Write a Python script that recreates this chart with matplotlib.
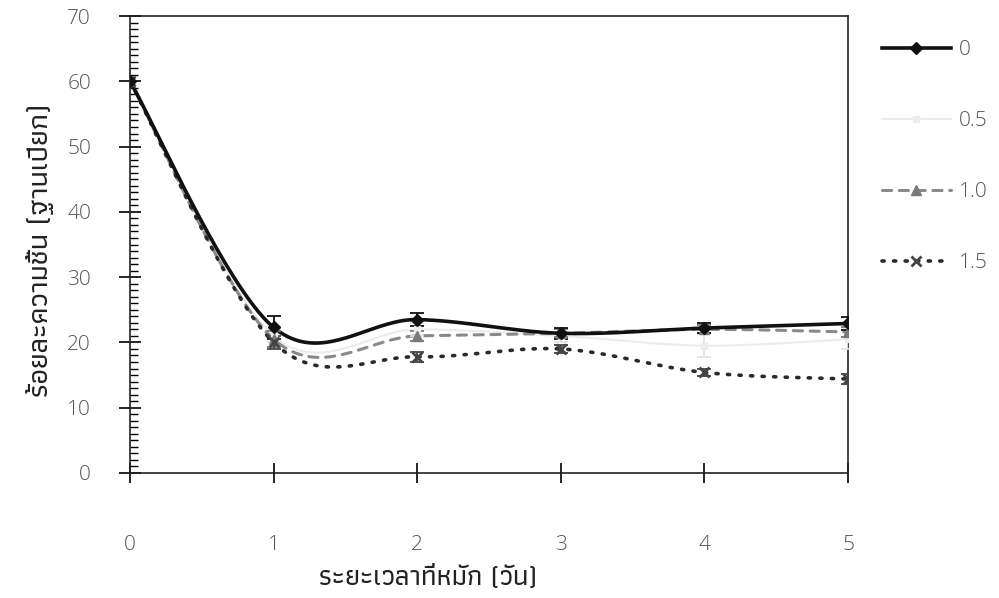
import matplotlib
matplotlib.use("Agg")
import matplotlib.pyplot as plt
import numpy as np
from matplotlib.lines import Line2D
from matplotlib.ticker import MultipleLocator

# ---- data ----
days = [0, 1, 2, 3, 4, 5]
labels = ["0", "0.5", "1.0", "1.5"]
m_00 = [60, 22.3, 23.5, 21.4, 22.2, 22.9]
e_00 = [0, 1.8, 1.0, 0.8, 0.8, 1.0]
m_05 = [60, 21.0, 22.0, 21.0, 19.5, 20.5]
e_05 = [0, 1.0, 1.0, 1.0, 1.8, 1.5]
m_10 = [60, 20.5, 21.0, 21.4, 22.0, 21.6]
e_10 = [0, 1.2, 0.8, 0.6, 0.6, 0.8]
m_15 = [60, 20.0, 17.8, 19.0, 15.4, 14.4]
e_15 = [0, 1.0, 0.8, 0.6, 0.6, 0.8]
xlabel = "ระยะเวลาที่หมัก (วัน)"
ylabel = "ร้อยละความชื้น (ฐานเปียก)"

THAI = ["Athiti", "DejaVu Sans"]
NUM = ["Open Sans", "DejaVu Sans"]


def smooth(xs, ys, n=40):
    """Catmull-Rom (Excel-style) smoothed path through the given points."""
    P = np.column_stack([xs, ys]).astype(float)
    out = []
    for i in range(len(P) - 1):
        p0 = P[i - 1] if i > 0 else P[i]
        p1, p2 = P[i], P[i + 1]
        p3 = P[i + 2] if i + 2 < len(P) else P[i + 1]
        b1 = p1 + (p2 - p0) / 6.0
        b2 = p2 - (p3 - p1) / 6.0
        t = np.linspace(0, 1, n)[:, None]
        seg = ((1 - t) ** 3) * p1 + 3 * ((1 - t) ** 2) * t * b1 + 3 * (1 - t) * t ** 2 * b2 + t ** 3 * p2
        out.append(seg if i == 0 else seg[1:])
    s = np.vstack(out)
    return s[:, 0], s[:, 1]


fig = plt.figure(figsize=(9.99, 5.98), dpi=100)
ax = fig.add_axes([130 / 999, 1 - 473 / 598, (848 - 130) / 999, (473 - 16) / 598])

series = [
    (m_05, e_05, dict(color="#ececec", ls="-", lw=1.5, marker="s", ms=5, mfc="#ececec", mec="#ececec"), "#e2e2e2"),
    (m_10, e_10, dict(color="#8a8a8a", ls=(0, (3.0, 2.5)), lw=2.2, marker="^", ms=7, mfc="#7a7a7a", mec="#7a7a7a"), "#7a7a7a"),
    (m_15, e_15, dict(color="#2a2a2a", ls=(0, (0.6, 2.6)), lw=2.6, marker="x", ms=7, mfc="#444", mec="#444", mew=2), "#444444"),
    (m_00, e_00, dict(color="#111111", ls="-", lw=2.6, marker="D", ms=6, mfc="#111", mec="#111"), "#111111"),
]
handles = {}
for (m, e, st, ecol), lab in zip(series, ["0.5", "1.0", "1.5", "0"]):
    sx, sy = smooth(days, m)
    ax.plot(sx, sy, color=st["color"], ls=st["ls"], lw=st["lw"],
            solid_capstyle="round", dash_capstyle="round", zorder=3)
    ax.errorbar(days, m, yerr=e, fmt="none", ecolor=ecol, elinewidth=1.3,
                capsize=5, capthick=1.3, zorder=4)
    ax.plot(days, m, ls="none", marker=st["marker"], ms=st["ms"], mfc=st["mfc"],
            mec=st["mec"], mew=st.get("mew", 1), zorder=5)
    handles[lab] = Line2D([], [], color=st["color"], ls=st["ls"], lw=st["lw"],
                          marker=st["marker"], ms=st["ms"], mfc=st["mfc"],
                          mec=st["mec"], mew=st.get("mew", 1),
                          dash_capstyle="round")

ax.set_xlim(0, 5)
ax.set_ylim(0, 70)
ax.set_xticks(days)
ax.yaxis.set_major_locator(MultipleLocator(10))
ax.yaxis.set_minor_locator(MultipleLocator(1))
ax.tick_params(axis="y", which="major", direction="inout", length=16, width=1.2,
               pad=20, labelsize=15, labelcolor="#555")
ax.tick_params(axis="y", which="minor", direction="in", length=6, width=1.0)
ax.tick_params(axis="x", which="major", direction="inout", length=14, width=1.2,
               pad=38, labelsize=15, labelcolor="#555")
for lab in ax.get_xticklabels() + ax.get_yticklabels():
    lab.set_family(NUM)
    lab.set_fontweight("light")
for side in ["top", "right", "left", "bottom"]:
    ax.spines[side].set_color("#222")
    ax.spines[side].set_linewidth(1.2)

fig.text(428 / 999, 1 - 578 / 598, xlabel, ha="center", va="center",
         fontsize=20, family=THAI, fontweight="medium", color="#222")
fig.text(40 / 999, 1 - 250 / 598, ylabel, ha="center", va="center",
         rotation=90, fontsize=21, family=THAI, fontweight="medium", color="#222")

leg = fig.legend([handles[l] for l in labels], labels, loc="upper left",
                 bbox_to_anchor=(882 / 999, 1 - 40 / 598), frameon=False,
                 borderpad=0, borderaxespad=0,
                 handlelength=3.3, handletextpad=0.4, labelspacing=2.45,
                 prop={"family": NUM, "size": 15, "weight": "light"})
for t in leg.get_texts():
    t.set_color("#555")

fig.savefig("out.png", dpi=100)
